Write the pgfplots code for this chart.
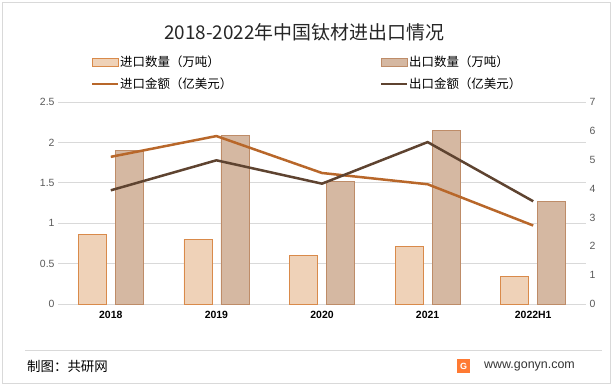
\documentclass[border=0pt]{standalone}
\usepackage{pgfplots}
\pgfplotsset{compat=1.18}
\usepackage{fontspec}
\setmainfont{Liberation Sans}
\newfontfamily\cjk{Noto Sans CJK SC}
\definecolor{impfill}{HTML}{EFD2B8}
\definecolor{impedge}{HTML}{D98A4A}
\definecolor{expfill}{HTML}{D5B8A2}
\definecolor{expedge}{HTML}{BE8C68}
\definecolor{impline}{HTML}{B8672A}
\definecolor{expline}{HTML}{5E4330}
\definecolor{gridc}{HTML}{D9D9D9}
\definecolor{tickc}{HTML}{595959}
\begin{document}
\begin{tikzpicture}[x=1bp,y=1bp]
\draw[gridc,line width=0.8bp] (2,2) rectangle (610,383);
\path (0,0) rectangle (612,385);
\node[font=\cjk\fontsize{19}{19}\selectfont,text=black!85] at (304,353) {2018-2022年中国钛材进出口情况};
% legend
\fill[impfill,draw=impedge,line width=0.8bp] (92,319) rectangle (118,327);
\node[anchor=west,font=\cjk\fontsize{12.5}{13}\selectfont,inner sep=0pt] at (120,323) {进口数量（万吨）};
\fill[expfill,draw=expedge,line width=0.8bp] (381,319) rectangle (407,327);
\node[anchor=west,font=\cjk\fontsize{12.5}{13}\selectfont,inner sep=0pt] at (409,323) {出口数量（万吨）};
\draw[impline,line width=2.5bp] (92,301) -- (118,301);
\node[anchor=west,font=\cjk\fontsize{12.5}{13}\selectfont,inner sep=0pt] at (120,301) {进口金额（亿美元）};
\draw[expline,line width=2.5bp] (381,301) -- (407,301);
\node[anchor=west,font=\cjk\fontsize{12.5}{13}\selectfont,inner sep=0pt] at (409,301) {出口金额（亿美元）};
\begin{axis}[
  at={(58bp,81bp)}, anchor=south west,
  scale only axis, width=528bp, height=202bp,
  xmin=-0.5, xmax=4.5, ymin=0, ymax=2.5,
  ytick={0,0.5,1,1.5,2,2.5},
  xtick={0,1,2,3,4},
  xticklabels={2018,2019,2020,2021,2022H1},
  xticklabel style={font=\bfseries\fontsize{10.5}{10}\selectfont, text=black, yshift=-4bp},
  yticklabel style={font=\fontsize{10.5}{11}\selectfont, text=tickc},
  /pgf/number format/assume math mode=true,
  ymajorgrids, grid style={gridc, line width=0.8bp},
  major tick length=0pt,
  ybar=9bp, bar width=28bp,
  axis x line*=bottom, axis y line*=left,
  separate axis lines,
  x axis line style={draw=gridc,line width=0.8bp},
  y axis line style={draw=none},
]
\addplot[fill=impfill, draw=impedge, line width=0.8bp] coordinates {(0,0.86) (1,0.80) (2,0.60) (3,0.715) (4,0.34)};
\addplot[fill=expfill, draw=expedge, line width=0.8bp] coordinates {(0,1.90) (1,2.09) (2,1.52) (3,2.15) (4,1.27)};
\end{axis}
\begin{axis}[
  at={(58bp,81bp)}, anchor=south west,
  scale only axis, width=528bp, height=202bp,
  xmin=-0.5, xmax=4.5, ymin=0, ymax=7,
  ytick={0,1,2,3,4,5,6,7},
  axis y line*=right, axis x line=none,
  y axis line style={draw=none},
  major tick length=0pt,
  yticklabel style={font=\fontsize{10.5}{11}\selectfont, text=tickc},
  /pgf/number format/assume math mode=true,
]
\addplot[impline, line width=2.5bp, mark=none] coordinates {(0,5.10) (1,5.82) (2,4.54) (3,4.15) (4,2.72)};
\addplot[expline, line width=2.5bp, mark=none] coordinates {(0,3.94) (1,4.98) (2,4.17) (3,5.61) (4,3.56)};
\end{axis}
% footer
\draw[gridc,line width=0.8bp] (25,35) -- (602,35);
\node[anchor=west,font=\cjk\fontsize{13.5}{14}\selectfont,inner sep=0pt] at (27,19) {制图：共研网};
\fill[orange!70!red!80] (457,12) rectangle (470,26);
\node[text=white,font=\bfseries\fontsize{9}{9}\selectfont,inner sep=0pt] at (463.5,19) {G};
\node[anchor=west,font=\fontsize{12.5}{13}\selectfont,inner sep=0pt,text=black!80] at (484,19) {www.gonyn.com};
\end{tikzpicture}
\end{document}
